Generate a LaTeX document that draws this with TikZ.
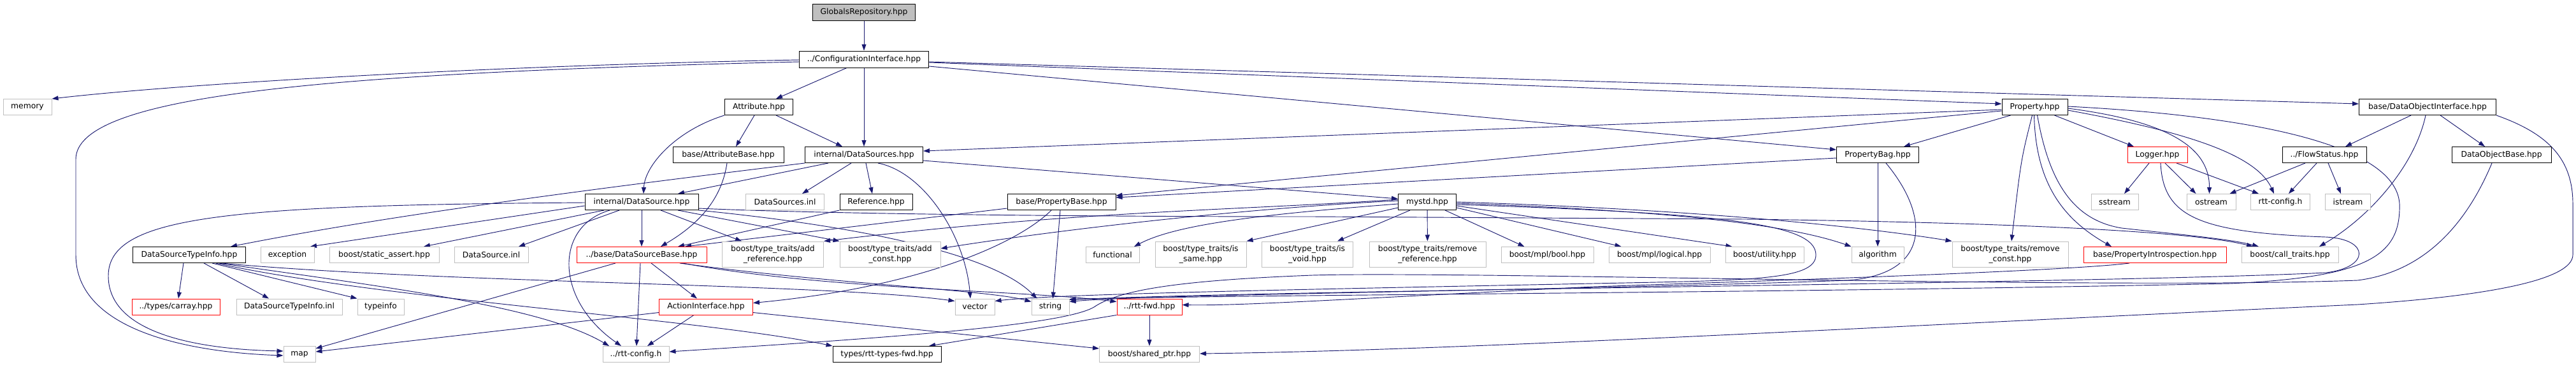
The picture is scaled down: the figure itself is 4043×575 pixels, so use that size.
\documentclass[tikz,border=0pt]{standalone}
\usepackage{fontspec}
\setmainfont{DejaVu Sans}
\usetikzlibrary{arrows.meta}
\newdimen\pxu \pxu=0.75pt
\definecolor{edgec}{HTML}{191970}
\definecolor{grayb}{HTML}{BFBFBF}
\definecolor{redb}{HTML}{FF0000}
\pgfdeclarelayer{paper}
\pgfdeclarelayer{bg}
\pgfsetlayers{paper,bg,main}
\tikzset{
  nb/.style={rectangle, inner sep=0pt, minimum height=25\pxu, font=\fontsize{9.25}{11.7}\selectfont, align=center, line width=0.75pt, fill=white},
  gb/.style={nb, draw=grayb},
  kb/.style={nb, draw=black},
  rb/.style={nb, draw=redb},
  tall/.style={minimum height=40\pxu},
  dep/.style={draw=edgec, line width=0.7pt, -{Triangle[length=7.5pt,width=5.25pt]}},
}
\begin{document}
\begin{tikzpicture}[x=0.75pt,y=-0.75pt]
\begin{pgfonlayer}{paper}
\fill[white] (0,0) rectangle (4043,575);
\end{pgfonlayer}
\useasboundingbox (0,0) rectangle (4043,575);
% ---------------- nodes ----------------
\node[kb, fill=grayb, minimum width=161\pxu, minimum height=26\pxu] (glob) at (1356,19) {GlobalsRepository.hpp};
\node[kb, minimum width=203\pxu, minimum height=26\pxu] (conf) at (1356,93) {../ConfigurationInterface.hpp};
\node[gb, minimum width=76\pxu] (memory) at (43,168) {memory};
\node[kb, minimum width=107\pxu] (attr) at (1191,168) {Attribute.hpp};
\node[kb, minimum width=174\pxu] (attrb) at (1143,243) {base/AttributeBase.hpp};
\node[kb, minimum width=185\pxu] (dss) at (1356,243) {internal/DataSources.hpp};
\node[kb, minimum width=178\pxu] (ds) at (1007,317) {internal/DataSource.hpp};
\node[gb, minimum width=123\pxu] (dsinl) at (1232,317) {DataSources.inl};
\node[kb, minimum width=114\pxu] (ref) at (1375,317) {Reference.hpp};
\node[kb, minimum width=177\pxu] (dsti) at (297,400) {DataSourceTypeInfo.hpp};
\node[gb, minimum width=84\pxu] (exc) at (451,400) {exception};
\node[gb, minimum width=172\pxu] (sa) at (603,400) {boost/static\_assert.hpp};
\node[gb, minimum width=116\pxu] (dsi) at (771,400) {DataSource.inl};
\node[rb, minimum width=204\pxu] (dsb) at (1007,400) {../base/DataSourceBase.hpp};
\node[gb, tall, minimum width=159\pxu] (addref) at (1213,399) {boost/type\_traits/add\\\_reference.hpp};
\node[gb, tall, minimum width=158\pxu] (addc) at (1397,399) {boost/type\_traits/add\\\_const.hpp};
\node[kb, minimum width=170\pxu] (pb) at (1666,317) {base/PropertyBase.hpp};
\node[gb, minimum width=84\pxu] (func) at (1746,400) {functional};
\node[gb, tall, minimum width=143\pxu] (issame) at (1884.5,399) {boost/type\_traits/is\\\_same.hpp};
\node[gb, tall, minimum width=143\pxu] (isvoid) at (2052,399) {boost/type\_traits/is\\\_void.hpp};
\node[kb, minimum width=91\pxu] (mystd) at (2240,317) {mystd.hpp};
\node[gb, tall, minimum width=183\pxu] (remref) at (2240.5,399) {boost/type\_traits/remove\\\_reference.hpp};
\node[gb, minimum width=145\pxu] (bool) at (2428.5,400) {boost/mpl/bool.hpp};
\node[gb, minimum width=159\pxu] (logical) at (2604.6,400) {boost/mpl/logical.hpp};
\node[gb, minimum width=123\pxu] (util) at (2769.5,400) {boost/utility.hpp};
\node[gb, minimum width=82\pxu] (algo) at (2947,400) {algorithm};
\node[gb, tall, minimum width=182\pxu] (remc) at (3155,399) {boost/type\_traits/remove\\\_const.hpp};
\node[rb, minimum width=224\pxu] (pintro) at (3382,400) {base/PropertyIntrospection.hpp};
\node[gb, minimum width=152\pxu] (calltr) at (3594,400) {boost/call\_traits.hpp};
\node[kb, minimum width=103\pxu] (prop) at (3193.5,168) {Property.hpp};
\node[kb, minimum width=129\pxu] (pbag) at (2947,243) {PropertyBag.hpp};
\node[rb, minimum width=94\pxu] (logger) at (3386,243) {Logger.hpp};
\node[gb, minimum width=74\pxu] (sstream) at (3319,317) {sstream};
\node[gb, minimum width=77\pxu] (ostream) at (3470.5,317) {ostream};
\node[gb, minimum width=93\pxu] (rttcfg) at (3579,317) {rtt-config.h};
\node[gb, minimum width=71\pxu] (istream) at (3685,317) {istream};
\node[kb, minimum width=215\pxu] (doi) at (3810,168) {base/DataObjectInterface.hpp};
\node[kb, minimum width=132\pxu] (flow) at (3648,243) {../FlowStatus.hpp};
\node[kb, minimum width=156\pxu] (dob) at (3926,243) {DataObjectBase.hpp};
\node[rb, minimum width=138\pxu] (carray) at (276,481.5) {../types/carray.hpp};
\node[gb, minimum width=166\pxu] (dstinl) at (454,481.5) {DataSourceTypeInfo.inl};
\node[gb, minimum width=73\pxu] (typeinfo) at (597.5,481.5) {typeinfo};
\node[rb, minimum width=147\pxu] (aif) at (1108,481.5) {ActionInterface.hpp};
\node[gb, minimum width=62\pxu] (vector) at (1530,481.5) {vector};
\node[gb, minimum width=59\pxu] (string) at (1648.5,481.5) {string};
\node[rb, minimum width=102\pxu] (rttfwd) at (1804,481.5) {../rtt-fwd.hpp};
\node[gb, minimum width=50\pxu] (map) at (470,556) {map};
\node[gb, minimum width=104\pxu] (rcfg2) at (998,556) {../rtt-config.h};
\node[kb, minimum width=170\pxu] (rtf) at (1392,556) {types/rtt-types-fwd.hpp};
\node[gb, minimum width=157\pxu] (sp) at (1804,556) {boost/shared\_ptr.hpp};
% ---------------- edges ----------------
\begin{pgfonlayer}{bg}
\draw[dep] (glob) -- (conf);
\draw[dep] ([yshift=-1\pxu]conf.west) .. controls (800,102) and (300,130) .. (memory.north east);
\draw[dep] ([yshift=-4\pxu]conf.west) .. controls (500,115) and (119,150) .. (119,250) -- (119,400) .. controls (119,520) and (300,553) .. ([yshift=-2\pxu]map.west);
\draw[dep] ([xshift=-27\pxu]conf.south) -- ([xshift=27\pxu]attr.north);
\draw[dep] (conf) -- (dss);
\draw[dep] ([yshift=-5\pxu]conf.east) -- ([yshift=5\pxu]prop.west);
\draw[dep] ([yshift=-4\pxu]conf.east) -- ([yshift=5\pxu]doi.west);
\draw[dep] ([yshift=-11\pxu]conf.east) -- ([yshift=8\pxu]pbag.west);
\draw[dep] ([xshift=-7\pxu]attr.south) -- ([xshift=12\pxu]attrb.north);
\draw[dep] ([xshift=27\pxu]attr.south) -- ([xshift=-34\pxu]dss.north);
\draw[dep] (attr.south west) .. controls (1060,205) and (1012,260) .. ([xshift=3\pxu]ds.north);
\draw[dep] ([xshift=-2\pxu]attrb.south) .. controls (1133,310) and (1100,350) .. ([xshift=30\pxu]dsb.north);
\draw[dep] ([xshift=-56\pxu]dss.south) -- ([xshift=57\pxu]ds.north);
\draw[dep] ([xshift=-20\pxu]dss.south) -- ([xshift=27\pxu]dsinl.north);
\draw[dep] ([xshift=3\pxu]dss.south) -- ([xshift=-6\pxu]ref.north);
\draw[dep] (dss.south west) .. controls (900,300) and (600,340) .. ([xshift=65\pxu]dsti.north);
\draw[dep] ([yshift=-9\pxu]dss.east) -- ([yshift=5\pxu]mystd.west);
\draw[dep] ([xshift=22\pxu]dss.south) .. controls (1450,270) and (1515,370) .. ([xshift=-7\pxu]vector.north);
\draw[dep] ([yshift=-4\pxu]prop.west) -- ([yshift=6\pxu]dss.east);
\draw[dep] ([yshift=-6\pxu]prop.west) -- ([yshift=10\pxu]pb.east);
\draw[dep] ([yshift=-5\pxu]pbag.west) -- ([yshift=7\pxu]pb.east);
\draw[dep] ([xshift=-38\pxu]prop.south) -- ([xshift=41\pxu]pbag.north);
\draw[dep] ([xshift=31\pxu]prop.south) -- ([xshift=-37\pxu]logger.north);
\draw[dep] ([xshift=-4\pxu]prop.south) .. controls (3172,250) .. ([xshift=2\pxu]remc.north);
\draw[dep] ([xshift=-1\pxu]prop.south) .. controls (3195,290) and (3240,345) .. ([xshift=-68\pxu]pintro.north);
\draw[dep] ([xshift=4\pxu]prop.south) .. controls (3215,280) and (3250,345) .. (3330,358) .. controls (3420,368) and (3500,375) .. ([xshift=-49\pxu]calltr.north);
\draw[dep] ([yshift=-2\pxu]prop.east) .. controls (3400,190) and (3468,230) .. ([xshift=-3\pxu]ostream.north);
\draw[dep] ([yshift=-5\pxu]prop.east) .. controls (3420,205) and (3540,240) .. ([xshift=-10\pxu]rttcfg.north);
\draw[dep] ([yshift=1\pxu]prop.east) .. controls (3500,180) and (3760,220) .. (3766,320) .. controls (3768,400) and (3720,435) .. (3500,445) .. controls (2800,460) and (2000,462) .. ([yshift=12\pxu]string.east);
\draw[dep] ([yshift=-1\pxu]ds.west) .. controls (350,322) and (170,340) .. (170,433) .. controls (170,520) and (300,548) .. ([yshift=5\pxu]map.west);
\draw[dep] ([yshift=-6\pxu]ds.west) -- ([xshift=36\pxu]exc.north);
\draw[dep] ([xshift=-59\pxu]ds.south) -- ([xshift=62\pxu]sa.north);
\draw[dep] ([xshift=-35\pxu]ds.south) -- ([xshift=43\pxu]dsi.north);
\draw[dep] (ds) -- (dsb);
\draw[dep] ([xshift=-50\pxu]ds.south) .. controls (870,355) and (870,470) .. ([xshift=-23\pxu]rcfg2.north);
\draw[dep] ([xshift=30\pxu]ds.south) -- ([xshift=-49\pxu]addref.north);
\draw[dep] ([xshift=57\pxu]ds.south) -- (addc.north west);
\draw[dep] ([yshift=-10\pxu]ds.east) .. controls (1300,336) and (1700,340) .. (2060,340) -- (2740,344) .. controls (3200,350) and (3450,365) .. ([xshift=-58\pxu]calltr.north);
\draw[dep] (ds.south east) .. controls (1300,350) and (1550,390) .. ([xshift=-21\pxu]string.north);
\draw[dep] ([xshift=-41\pxu]dsb.south) -- ([yshift=9\pxu]map.east);
\draw[dep] ([xshift=-2\pxu]dsb.south) -- ([xshift=1\pxu]rcfg2.north);
\draw[dep] ([xshift=15\pxu]dsb.south) -- ([xshift=-14\pxu]aif.north);
\draw[dep] ([xshift=60\pxu]dsb.south) .. controls (1300,445) and (1550,455) .. ([yshift=8\pxu]string.west);
\draw[dep] ([xshift=64\pxu]dsb.south) .. controls (1300,455) and (1600,455) .. ([yshift=8\pxu]rttfwd.west);
\draw[dep] ([xshift=50\pxu]dsti.south) .. controls (700,445) and (1300,445) .. ([yshift=9\pxu]vector.west);
\draw[dep] ([xshift=47\pxu]dsti.south) .. controls (600,450) and (850,480) .. ([xshift=-42\pxu]rcfg2.north);
\draw[dep] ([xshift=42\pxu]dsti.south) .. controls (600,470) and (1100,500) .. (rtf.north west);
\draw[dep] ([xshift=-9\pxu]dsti.south) -- ([xshift=4\pxu]carray.north);
\draw[dep] ([xshift=23\pxu]dsti.south) -- ([xshift=-32\pxu]dstinl.north);
\draw[dep] ([xshift=36\pxu]dsti.south) -- ([xshift=-37\pxu]typeinfo.north);
\draw[dep] ([yshift=-9\pxu]aif.west) -- ([yshift=4\pxu]map.east);
\draw[dep] ([xshift=-19\pxu]aif.south) -- ([xshift=18\pxu]rcfg2.north);
\draw[dep] ([yshift=-9\pxu]aif.east) -- ([yshift=9\pxu]sp.west);
\draw[dep] ([xshift=-16\pxu]pb.south) .. controls (1600,380) and (1450,450) .. ([yshift=6\pxu]aif.east);
\draw[dep] ([xshift=-2\pxu]pb.south) -- ([xshift=4\pxu]string.north);
\draw[dep] ([yshift=-10\pxu]pb.west) -- ([xshift=68\pxu]dsb.north);
\draw[dep] (ref.south west) -- ([xshift=57\pxu]dsb.north);
\draw[dep] (rttfwd.south west) -- ([xshift=66\pxu]rtf.north);
\draw[dep] (rttfwd) -- (sp);
\draw[dep] ([yshift=4\pxu]mystd.west) .. controls (1950,330) and (1700,330) .. (addref.north east);
\draw[dep] ([yshift=2\pxu]mystd.west) .. controls (1900,330) and (1600,370) .. ([yshift=9\pxu]addc.east);
\draw[dep] ([yshift=-3\pxu]mystd.west) .. controls (2000,335) and (1850,350) .. ([xshift=34\pxu]func.north);
\draw[dep] ([yshift=-9\pxu]mystd.west) -- (issame.north east);
\draw[dep] ([xshift=-27\pxu]mystd.south) -- ([xshift=47\pxu]isvoid.north);
\draw[dep] (mystd) -- (remref);
\draw[dep] ([xshift=28\pxu]mystd.south) -- ([xshift=-36\pxu]bool.north);
\draw[dep] ([yshift=-9\pxu]mystd.east) -- ([xshift=-60\pxu]logical.north);
\draw[dep] ([yshift=-6\pxu]mystd.east) -- ([xshift=-51\pxu]util.north);
\draw[dep] ([yshift=-2\pxu]mystd.east) .. controls (2600,330) and (2800,350) .. (algo.north west);
\draw[dep] ([yshift=0\pxu]mystd.east) .. controls (2700,330) and (2950,360) .. (remc.north west);
\draw[dep] ([yshift=-4\pxu]mystd.east) .. controls (2700,335) and (2850,350) .. (2850,400) .. controls (2850,440) and (2750,440) .. (2500,445) .. controls (2000,455) and (1650,462) .. ([yshift=9\pxu]vector.east);
\draw[dep] (pbag) -- (algo);
\draw[dep] ([xshift=13\pxu]pbag.south) .. controls (3030,340) and (3030,430) .. (2900,440) .. controls (2500,455) and (1800,462) .. ([yshift=8\pxu]string.east);
\draw[dep] ([xshift=-13\pxu]logger.south) -- ([xshift=15\pxu]sstream.north);
\draw[dep] ([xshift=12\pxu]logger.south) -- ([xshift=-24\pxu]ostream.north);
\draw[dep] ([xshift=30\pxu]logger.south) -- ([xshift=-34\pxu]rttcfg.north);
\draw[dep] ([xshift=5\pxu]logger.south) .. controls (3395,340) and (3450,365) .. (3650,372) .. controls (3720,375) and (3720,420) .. (3650,428) .. controls (3300,445) and (2000,455) .. ([yshift=11\pxu]string.east);
\draw[dep] ([xshift=-30\pxu]flow.south) -- ([xshift=29\pxu]ostream.north);
\draw[dep] ([xshift=-12\pxu]flow.south) -- ([xshift=13\pxu]rttcfg.north);
\draw[dep] ([xshift=6\pxu]flow.south) -- ([xshift=-11\pxu]istream.north);
\draw[dep] ([xshift=-26\pxu]doi.south) -- ([xshift=33\pxu]flow.north);
\draw[dep] ([xshift=20\pxu]doi.south) -- ([xshift=-26\pxu]dob.north);
\draw[dep] ([xshift=-3\pxu]doi.south) .. controls (3790,260) and (3720,340) .. ([xshift=46\pxu]calltr.north);
\draw[dep] (doi.south east) .. controls (4000,210) and (4038,250) .. (4038,320) -- (4038,400) .. controls (4038,440) and (3900,465) .. (3700,478) .. controls (3000,510) and (2300,550) .. ([yshift=1\pxu]sp.east);
\draw[dep] ([xshift=-15\pxu]dob.south) .. controls (3880,330) and (3820,425) .. (3700,440) .. controls (3300,455) and (2300,425) .. (2060,432) .. controls (1850,440) and (1760,455) .. (1720,480) .. controls (1680,510) and (1400,530) .. ([yshift=4\pxu]rcfg2.east);
\draw[dep] ([xshift=-40\pxu]pintro.south) .. controls (3250,425) and (2800,440) .. (2500,450) .. controls (2100,470) and (1950,480) .. ([yshift=3\pxu]rttfwd.east);
\end{pgfonlayer}
\end{tikzpicture}
\end{document}
